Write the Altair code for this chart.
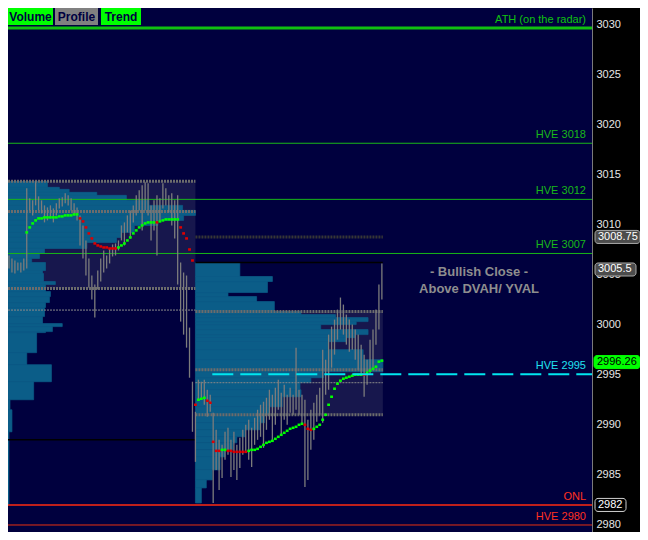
import altair as alt
import pandas as pd

# ---------------- data ----------------
highs = [3006.9, 3006.6, 3006.4, 3006.2, 3006.2, 3006.6, 3013.6, 3012.6, 3012.4, 3014.3,
         3012.8, 3012.4, 3011.9, 3011.7, 3011.9, 3011.6, 3012.1, 3012.6, 3012.7, 3013.1,
         3012.9, 3012.6, 3012.1, 3011.7, 3010.9, 3009.9, 3008.4, 3006.6, 3004.9, 3004.0,
         3005.4, 3006.6, 3007.4, 3006.9, 3007.6, 3008.0, 3008.1, 3008.4, 3009.9, 3010.2,
         3010.9, 3011.4, 3011.9, 3012.9, 3013.4, 3013.9, 3014.2, 3014.1, 3011.9, 3012.4,
         3012.9, 3012.6, 3014.1, 3013.6, 3012.9, 3013.1, 3012.4, 3012.9, 3006.2, 3005.2,
         3004.9, 2999.7, 2994.3, 2991.3, 2994.5, 2994.3, 2994.5, 2993.5, 2993.0, 2991.2,
         2989.5, 2988.5, 2988.0, 2989.3, 2989.7, 2988.5, 2989.3, 2988.0, 2988.7, 2989.5,
         2990.0, 2990.5, 2989.7, 2990.7, 2991.5, 2992.0, 2992.3, 2992.7, 2993.5, 2993.0,
         2993.7, 2994.5, 2993.2, 2994.0, 2993.0, 2993.7, 2993.0, 2997.7, 2993.5, 2993.0,
         2992.5, 2990.5, 2991.5, 2992.2, 2993.0, 2993.7, 2997.5, 2996.5, 2999.0, 2999.8,
         3000.5, 3001.5, 3002.7, 3002.0, 3001.0, 3000.5, 3000.0, 2999.5, 2999.0, 2998.0,
         2997.0, 2996.5, 2998.5, 2999.5, 3001.5, 3004.0, 3006.1]
lows = [3005.6, 3005.2, 3005.1, 3005.4, 3005.2, 3005.4, 3005.6, 3011.4, 3010.9, 3011.9,
        3011.4, 3011.1, 3010.2, 3010.4, 3010.6, 3010.2, 3010.9, 3011.6, 3011.8, 3012.1,
        3011.9, 3011.4, 3010.9, 3010.4, 3007.9, 3006.6, 3004.9, 3003.7, 3002.5, 3000.7,
        3003.5, 3004.3, 3005.2, 3005.6, 3006.1, 3006.8, 3006.9, 3007.4, 3008.4, 3007.9,
        3009.2, 3008.6, 3010.2, 3010.9, 3011.4, 3009.4, 3011.4, 3010.9, 3008.4, 3009.4,
        3006.9, 3010.4, 3011.6, 3011.9, 3011.2, 3009.9, 3008.6, 3004.0, 3000.3, 2999.0,
        2997.7, 2994.7, 2989.3, 2986.3, 2992.5, 2992.7, 2992.0, 2990.8, 2991.3, 2982.2,
        2985.5, 2983.5, 2984.7, 2986.5, 2987.0, 2984.8, 2985.5, 2984.5, 2985.7, 2987.0,
        2987.3, 2986.5, 2985.8, 2988.0, 2988.5, 2988.8, 2987.7, 2989.5, 2990.5, 2988.5,
        2990.0, 2991.5, 2989.0, 2990.5, 2990.0, 2991.2, 2991.0, 2991.5, 2991.0, 2990.0,
        2983.8, 2984.5, 2987.5, 2988.5, 2990.3, 2991.0, 2990.2, 2993.0, 2993.5, 2995.7,
        2997.0, 2998.5, 2999.5, 2999.0, 2998.0, 2997.3, 2997.5, 2996.5, 2995.5, 2995.0,
        2992.8, 2994.0, 2995.0, 2995.7, 2998.0, 2999.5, 3002.5]

# trend line (per bar), session 1 starts at bar 6, session 2 at bar 63
ma1_start = 6
ma1 = [3009.2, 3009.7, 3010.1, 3010.4, 3010.6, 3010.6, 3010.7, 3010.7, 3010.7, 3010.7,
       3010.7, 3010.8, 3010.8, 3010.9, 3010.9, 3010.9, 3011.0, 3011.0, 3010.6, 3010.3,
       3009.7, 3009.1, 3008.6, 3008.1, 3007.9, 3007.8, 3007.7, 3007.7, 3007.6, 3007.6,
       3007.6, 3007.7, 3007.9, 3008.1, 3008.4, 3008.7, 3009.1, 3009.4, 3009.7, 3009.9,
       3010.1, 3010.2, 3010.2, 3010.2, 3010.2, 3010.3, 3010.4, 3010.5, 3010.5, 3010.5,
       3010.5, 3010.5, 3009.7, 3009.1, 3008.6, 3007.5, 3006.4]
ma1_runs = [("up", 18), ("dn", 13), ("up", 13), ("dn", 1), ("up", 7), ("dn", 5)]
ma2_start = 63
ma2 = [2992.0, 2992.5, 2992.6, 2992.7, 2992.4, 2992.2, 2988.3, 2987.4, 2987.4, 2987.5,
       2987.5, 2987.4, 2987.4, 2987.3, 2987.3, 2987.3, 2987.3, 2987.3, 2987.4, 2987.5,
       2987.5, 2987.6, 2987.8, 2988.0, 2988.2, 2988.3, 2988.4, 2988.6, 2988.8, 2989.0,
       2989.2, 2989.4, 2989.6, 2989.7, 2989.8, 2990.0, 2990.1, 2990.0, 2989.6, 2989.5,
       2989.6, 2989.8, 2990.0, 2990.5, 2991.0, 2992.0, 2992.8, 2993.6, 2994.1, 2994.4,
       2994.6, 2994.7, 2994.8, 2994.9, 2995.0, 2995.0, 2995.0, 2995.0, 2995.2, 2995.4,
       2995.6, 2995.8, 2996.3, 2996.4]
ma2_runs = [("dn", 1), ("up", 3), ("dn", 5), ("up", 2), ("dn", 7), ("up", 19), ("dn", 3),
            ("up", 17), ("dn", 1), ("up", 6)]

# sessions (bar index range)
s1 = (-0.333, 63.0)
s2 = (63.0, 126.33)

# volume profiles: price bin edges (top to bottom) and volume per bin
left_edges = [3014.3, 3013.7, 3013.5, 3013.2, 3012.9, 3012.4, 3011.9, 3011.4, 3010.9, 3010.4,
              3009.9, 3009.2, 3008.7, 3008.2, 3007.6, 3007.1, 3006.6, 3006.2, 3005.4, 3005.1,
              3004.3, 3004.0, 3003.3, 3002.8, 3002.2, 3001.7, 3000.8, 3000.1, 2999.8, 2999.3,
              2999.2, 2997.2, 2996.0, 2994.3, 2992.5, 2991.5, 2989.3, 2982.0]
left_vol = [40, 52, 62, 90, 120, 143, 177, 190, 178, 152, 128, 115, 110, 80, 37, 32, 24, 38,
            35, 36, 48, 38, 43, 42, 38, 37, 35, 55, 45, 38, 29, 19, 44, 26, 2, 4, 1]
right_edges = [3006.2, 3004.8, 3004.3, 3003.2, 3002.8, 3002.3, 3001.3, 3001.0, 3000.7, 3000.3,
               3000.0, 2999.5, 2999.0, 2998.7, 2998.3, 2997.5, 2996.5, 2995.3, 2994.7, 2994.2,
               2993.5, 2992.8, 2991.8, 2991.0, 2990.2, 2989.5, 2988.8, 2988.2, 2987.5, 2986.8,
               2985.5, 2984.5, 2983.7, 2982.2]
right_vol = [45, 78, 73, 33, 62, 80, 107, 142, 175, 163, 127, 175, 162, 153, 135, 170, 190,
             130, 117, 106, 107, 88, 75, 70, 65, 50, 42, 38, 30, 25, 17, 11, 6]

# value areas (price ranges)
va_left = (3003.6, 3014.3)
va_right = (2991.0, 3001.3)

# key levels
hve_names = ["ATH (on the radar)", "HVE 3018", "HVE 3012", "HVE 3007", "ONL", "HVE 2980"]
hve_prices = [3029.6, 3018.1, 3012.5, 3007.1, 2982.0, 2980.0]
hve_cyan_name = "HVE 2995"
hve_cyan_price = 2995.05

thick_dotted = [(3014.3, 1), (3011.3, 1), (3003.6, 1), (3001.3, 2), (2995.5, 2), (2991.0, 2)]
thin_dotted = [(3001.45, 1), (2994.2, 2)]
dark_lines = [(3008.75, 2)]
black_lines = [(3006.2, 2), (2988.5, 1)]

price_tags = ["3008.75", "3005.5", "2996.26", "2982"]
price_tag_values = [3008.75, 3005.5, 2996.26, 2982.0]

note_lines = ["- Bullish Close -", "Above DVAH/ YVAL"]
note_prices = [3005.3, 3003.6]

buttons = ["Volume", "Profile", "Trend"]
tick_values = [2980, 2985, 2990, 2995, 3000, 3005, 3010, 3015, 3020, 3025, 3030]

# ---------------- layout / style ----------------
W, H = 584, 524
FONT = "Liberation Sans"
PX_PER_VOL = 1 / 3.0   # bar-index units per volume unit
xs = alt.Scale(domain=[-0.333, 197], nice=False, zero=False)
ys = alt.Scale(domain=[2979.3, 3031.6], nice=False, zero=False)
yax = alt.Axis(orient="right", values=tick_values, labelColor="#e6e6e6", labelFont=FONT,
               labelFontSize=11, domainColor="#7a7a7a", domainWidth=1, ticks=False,
               grid=False, title=None, labelPadding=4, format="d")


def X(f):
    return alt.X(f, type="quantitative", scale=xs, axis=None)


def Y(f):
    return alt.Y(f, type="quantitative", scale=ys, axis=yax)


sess = {1: s1, 2: s2}

# ---------------- frames ----------------
bars = pd.DataFrame({"t": list(range(len(highs))), "hi": highs, "lo": lows})


def ma_frame(start, vals, runs):
    tr = []
    for name, n in runs:
        tr += [name] * n
    t = [start + i for i in range(len(vals))]
    return pd.DataFrame({"t0": [v - 0.48 for v in t], "t1": [v + 0.48 for v in t],
                         "ma": vals, "trend": tr})


ma_df = pd.concat([ma_frame(ma1_start, ma1, ma1_runs), ma_frame(ma2_start, ma2, ma2_runs)])


def prof_frame(edges, vols, start):
    return pd.DataFrame({"hi": edges[:-1], "lo": edges[1:],
                         "x0": [start] * len(vols),
                         "x1": [start + v * PX_PER_VOL for v in vols]})


prof = pd.concat([prof_frame(left_edges, left_vol, s1[0]), prof_frame(right_edges, right_vol, s2[0])])

va = pd.DataFrame({"x0": [s1[0], s2[0]], "x1": [s1[1], s2[1]],
                   "lo": [va_left[0], va_right[0]], "hi": [va_left[1], va_right[1]]})


def lvl_frame(items):
    return pd.DataFrame({"p": [p for p, s in items],
                         "x0": [sess[s][0] for p, s in items],
                         "x1": [sess[s][1] for p, s in items]})


layers = []

layers.append(alt.Chart(va).mark_rect(color="#17174d").encode(
    x=X("x0"), x2=alt.X2("x1"), y=Y("lo"), y2=alt.Y2("hi")))
layers.append(alt.Chart(prof).mark_rect(color="#0b5d88", stroke="#0b5d88", strokeWidth=0.7).encode(
    x=X("x0"), x2=alt.X2("x1"), y=Y("lo"), y2=alt.Y2("hi")))

layers.append(alt.Chart(lvl_frame(thick_dotted)).mark_rule(
    color="#6c6c6c", strokeWidth=3, strokeDash=[2, 1]).encode(x=X("x0"), x2=alt.X2("x1"), y=Y("p")))
layers.append(alt.Chart(lvl_frame(thin_dotted)).mark_rule(
    color="#8a8a8a", strokeWidth=1, strokeDash=[2, 1]).encode(x=X("x0"), x2=alt.X2("x1"), y=Y("p")))
layers.append(alt.Chart(lvl_frame(dark_lines)).mark_rule(
    color="#363636", strokeWidth=3, strokeDash=[2, 1]).encode(x=X("x0"), x2=alt.X2("x1"), y=Y("p")))
layers.append(alt.Chart(lvl_frame(black_lines)).mark_rule(
    color="#000000", strokeWidth=1.5).encode(x=X("x0"), x2=alt.X2("x1"), y=Y("p")))

hve = pd.DataFrame({"name": hve_names, "p": hve_prices,
                    "col": ["#10c010", "#18b818", "#18b818", "#18b818", "#ff2a10", "#e83010"],
                    "w": [3, 1, 1, 1, 1.5, 1]})
layers.append(alt.Chart(hve).mark_rule().encode(
    y=Y("p"), color=alt.Color("col:N", scale=None), strokeWidth=alt.StrokeWidth("w:Q", scale=None)))

layers.append(alt.Chart(bars).mark_rule(color="#7c7c7c", strokeWidth=1.3).encode(
    x=X("t"), y=Y("lo"), y2=alt.Y2("hi")))

layers.append(alt.Chart(ma_df).mark_rule(strokeWidth=2.5).encode(
    x=X("t0"), x2=alt.X2("t1"), y=Y("ma"),
    color=alt.Color("trend:N", scale=alt.Scale(domain=["up", "dn"], range=["#00ff00", "#e00000"]),
                    legend=None)))

cyan = pd.DataFrame({"p": [hve_cyan_price], "x0": [68.7], "x1": [197]})
layers.append(alt.Chart(cyan).mark_rule(color="#00e6f0", strokeWidth=2, strokeDash=[21, 7]).encode(
    x=X("x0"), x2=alt.X2("x1"), y=Y("p")))

hve_txt = pd.DataFrame({"name": hve_names + [hve_cyan_name], "p": hve_prices + [hve_cyan_price],
                        "col": ["#10c010", "#18b818", "#18b818", "#18b818", "#ff3020", "#ff3020", "#20e0f0"]})
layers.append(alt.Chart(hve_txt).mark_text(
    align="right", baseline="bottom", dy=-3, font=FONT, fontSize=11).encode(
    x=alt.value(578), y=Y("p"), text="name:N", color=alt.Color("col:N", scale=None)))

notes = pd.DataFrame({"txt": note_lines, "p": note_prices})
layers.append(alt.Chart(notes).mark_text(
    align="center", baseline="middle", font=FONT, fontSize=13, fontWeight="bold", color="#8e8e8e").encode(
    x=alt.value(471), y=Y("p"), text="txt:N"))

tag_fill = ["#4c4c4c", "#4c4c4c", "#00ff00", "#000000"]
tag_stroke = ["#a8a8a8", "#a8a8a8", "#00ff00", "#d0d0d0"]
tag_text = ["#ffffff", "#ffffff", "#000000", "#ffffff"]
tag_x = [(587, 632), (587, 628), (586, 632), (587, 618)]
for i, lab in enumerate(price_tags):
    d = pd.DataFrame({"p": [price_tag_values[i]], "lo": [price_tag_values[i] - 0.65],
                      "hi": [price_tag_values[i] + 0.65], "lab": [lab]})
    layers.append(alt.Chart(d).mark_rect(
        fill=tag_fill[i], stroke=tag_stroke[i], strokeWidth=1, cornerRadius=3).encode(
        x=alt.value(tag_x[i][0]), x2=alt.value(tag_x[i][1]), y=Y("lo"), y2=alt.Y2("hi")))
    layers.append(alt.Chart(d).mark_text(
        align="left", baseline="middle", font=FONT, fontSize=11, color=tag_text[i]).encode(
        x=alt.value(tag_x[i][0] + 3), y=Y("p"), text="lab:N"))

btn_x = [(0, 45), (47, 90), (93, 133)]
btn_fill = ["#00ff00", "#808080", "#00ff00"]
for i, b in enumerate(buttons):
    d = pd.DataFrame({"lab": [b]})
    layers.append(alt.Chart(d).mark_rect(fill=btn_fill[i]).encode(
        x=alt.value(btn_x[i][0]), x2=alt.value(btn_x[i][1]), y=alt.value(0), y2=alt.value(17)))
    layers.append(alt.Chart(d).mark_text(
        align="center", baseline="middle", font=FONT, fontSize=12, fontWeight="bold",
        color="#000040").encode(
        x=alt.value((btn_x[i][0] + btn_x[i][1]) / 2), y=alt.value(9), text="lab:N"))

chart = alt.layer(*layers).properties(
    width=W, height=H, background="#000000",
    padding={"left": 0, "top": 0, "right": 48, "bottom": 0},
    autosize=alt.AutoSizeParams(type="none"),
).configure_view(fill="#00003e", stroke=None)

chart.save("out.html", embed_options={"renderer": "svg", "actions": False})
